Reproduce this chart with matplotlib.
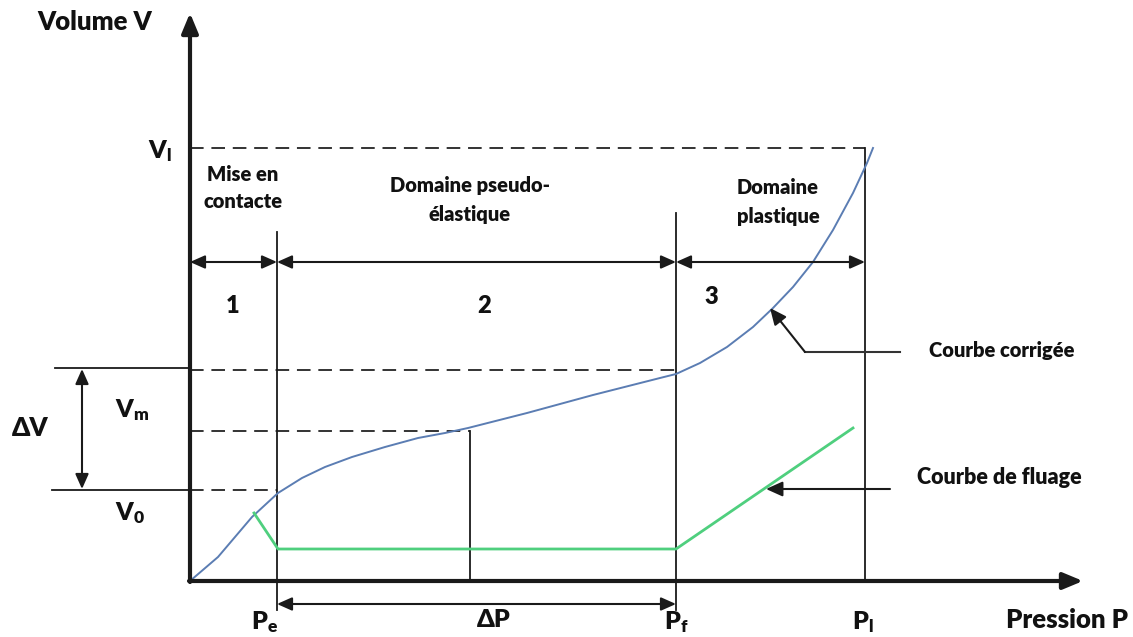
import numpy as np
import matplotlib.pyplot as plt

plt.rcParams['font.family'] = ['Lato', 'DejaVu Sans']
plt.rcParams['mathtext.fontset'] = 'custom'
plt.rcParams['mathtext.rm'] = 'Lato:heavy'
plt.rcParams['mathtext.bf'] = 'Lato:heavy'
plt.rcParams['mathtext.it'] = 'Lato:heavy'

# schematic in picture coordinates (x right, y down)
origin = (190, 581)
p_e, p_m, p_f, p_l = 277, 470, 676, 865
v_l, v_top, v_m, v_0 = 148, 370, 431, 490

# corrected curve
curve_x = [190, 218, 252, 278, 302, 325, 352, 385, 418, 445, 468, 527, 593, 660,
           676, 700, 727, 753, 773, 793, 813, 833, 853, 867, 873]
curve_y = [581, 557, 517, 493, 478, 467, 457, 447, 438, 433, 428, 413, 395, 378,
           374, 363, 347, 327, 308, 287, 262, 230, 193, 163, 148]
# creep curve
creep_x = [254, 278, 676, 853]
creep_y = [513, 549, 549, 428]

blue = '#5b7db3'
green = '#4fcf7e'
dark = '#1a1a1a'

fig = plt.figure(figsize=(11.33, 6.37), dpi=100)
ax = fig.add_axes([0, 0, 1, 1])
ax.set_xlim(0, 1133)
ax.set_ylim(637, 0)
ax.axis('off')

def arrow(x0, y0, x1, y1, style='-|>', lw=1.5, hw=0.45, hl=0.9):
    ax.annotate('', xy=(x1, y1), xytext=(x0, y0),
                arrowprops=dict(arrowstyle=f'{style},head_width={hw},head_length={hl}',
                                color=dark, lw=lw, shrinkA=0, shrinkB=0))

# axes
arrow(origin[0], origin[1] + 1, origin[0], 13, lw=3, hw=0.5, hl=1.2)
arrow(origin[0] - 1, origin[1], 1083, origin[1], lw=3, hw=0.5, hl=1.2)

# dashed guides
dash = dict(color='#333333', lw=1.4, ls=(0, (7, 4)))
ax.plot([190, p_l], [v_l, v_l], **dash)
ax.plot([190, p_f], [v_top, v_top], **dash)
ax.plot([190, p_m], [v_m, v_m], **dash)
ax.plot([190, p_e], [v_0, v_0], **dash)

# vertical guides
vl = dict(color=dark, lw=1.3)
ax.plot([p_e, p_e], [232, 610], **vl)
ax.plot([p_f, p_f], [213, 610], **vl)
ax.plot([p_l, p_l], [v_l, 581], **vl)
ax.plot([p_m, p_m], [v_m, 581], **vl)

# outer lines for delta V
ax.plot([55, 190], [368, 368], **vl)
ax.plot([52, 190], [490, 490], **vl)
arrow(82, 430, 82, 369, hw=0.4, hl=0.9)
arrow(82, 430, 82, 489, hw=0.4, hl=0.9)

# domain arrows
for a, b in [(190, p_e), (p_e, p_f), (p_f, p_l)]:
    arrow(a, 262, b, 262, style='<|-|>', hw=0.4, hl=0.9)
arrow(p_e, 604, p_f, 604, style='<|-|>', hw=0.4, hl=0.9)

# curves
ax.plot(curve_x, curve_y, color=blue, lw=1.4)
ax.plot(creep_x, creep_y, color=green, lw=2)

# annotation arrows
ax.plot([900, 805], [352, 352], color='#333333', lw=1.5)
arrow(805, 352, 770, 308, hw=0.45, hl=1.0)
arrow(890, 489, 766, 489, hw=0.45, hl=1.0)

tk = dict(fontweight='heavy', color='#111111')
ax.text(95, 22, 'Volume V', fontsize=18.5, ha='center', va='center', **tk)
ax.text(160, 151, r'$\mathbf{V_l}$', fontsize=18, ha='center', va='center', **tk)
ax.text(132, 410, r'$\mathbf{V_m}$', fontsize=18, ha='center', va='center', **tk)
ax.text(130, 513, r'$\mathbf{V_0}$', fontsize=18, ha='center', va='center', **tk)
ax.text(30, 428, 'ΔV', fontsize=18.5, ha='center', va='center', **tk)

ax.text(p_e - 12, 622, r'$\mathbf{P_e}$', fontsize=18, ha='center', va='center', **tk)
ax.text(p_m + 24, 620, 'ΔP', fontsize=18, ha='center', va='center', **tk)
ax.text(p_f, 622, r'$\mathbf{P_f}$', fontsize=18, ha='center', va='center', **tk)
ax.text(p_l - 2, 622, r'$\mathbf{P_l}$', fontsize=18, ha='center', va='center', **tk)
ax.text(1067, 620, 'Pression P', fontsize=18.5, ha='center', va='center', **tk)

ax.text(243, 188, 'Mise en\ncontacte', fontsize=14.5, ha='center', va='center',
        linespacing=1.45, **tk)
ax.text(470, 200, 'Domaine pseudo-\nélastique', fontsize=14.5, ha='center', va='center',
        linespacing=1.6, **tk)
ax.text(778, 202, 'Domaine\nplastique', fontsize=14.5, ha='center', va='center',
        linespacing=1.6, **tk)

ax.text(233, 306, '1', fontsize=17, ha='center', va='center', **tk)
ax.text(484, 306, '2', fontsize=17, ha='center', va='center', **tk)
ax.text(711, 297, '3', fontsize=17, ha='center', va='center', **tk)

ax.text(1002, 351, 'Courbe corrigée', fontsize=14.5, ha='center', va='center', **tk)
ax.text(999, 478, 'Courbe de fluage', fontsize=15.5, ha='center', va='center', **tk)

fig.savefig('out.png', dpi=100)
